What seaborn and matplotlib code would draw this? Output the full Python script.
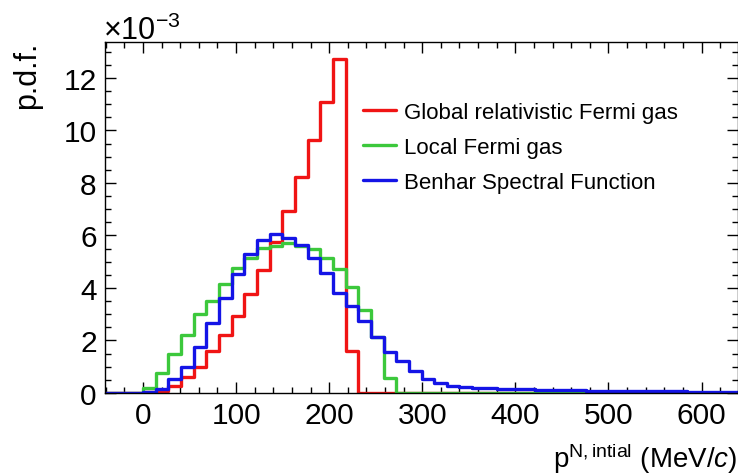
import numpy as np
import pandas as pd
import matplotlib
matplotlib.use("Agg")
import matplotlib.pyplot as plt
from matplotlib.ticker import MultipleLocator
import seaborn as sns

# Histogram binning: 50 bins of 13.6 MeV/c starting at -40.8 MeV/c
bin_lo = -40.8
bin_width = 13.6
n_bins = 50

# p.d.f. per bin, in units of 1e-3
global_rfg = [0, 0, 0,
              0.02, 0.09, 0.28, 0.62, 1.00, 1.61, 2.20, 2.95, 3.77, 4.70,
              5.74, 6.92, 8.24, 9.65, 11.10, 12.72, 1.61] + [0] * 30

local_fg = [0, 0, 0,
            0.20, 0.78, 1.50, 2.20, 3.00, 3.52, 4.15, 4.78, 5.16, 5.53,
            5.61, 5.71, 5.60, 5.49, 5.15, 4.74, 4.04, 3.18, 2.15, 0.58] + [0] * 27

benhar_sf = [0, 0, 0,
             0.03, 0.17, 0.52, 0.98, 1.74, 2.68, 3.63, 4.53, 5.30, 5.81,
             6.06, 5.90, 5.62, 5.16, 4.56, 3.82, 3.31, 2.74, 2.15, 1.55,
             1.20, 0.83, 0.53, 0.37, 0.28, 0.23, 0.20, 0.18, 0.17, 0.15,
             0.14, 0.13, 0.12, 0.11, 0.10, 0.09, 0.09, 0.08, 0.08, 0.07,
             0.07, 0.06, 0.06, 0.05, 0.05, 0.05, 0.04]

series_names = ["Global relativistic Fermi gas", "Local Fermi gas",
                "Benhar Spectral Function"]
series_colors = ["#f01414", "#3cc83c", "#1414e6"]
series_values = [global_rfg, local_fg, benhar_sf]

x_ticks = [0, 100, 200, 300, 400, 500, 600]
y_ticks = [0, 2, 4, 6, 8, 10, 12]

edges = [bin_lo + bin_width * i for i in range(n_bins + 1)]
centers = [0.5 * (a + b) for a, b in zip(edges[:-1], edges[1:])]

sns.set_style("ticks")
plt.rcParams["font.family"] = ["Liberation Sans", "DejaVu Sans"]
plt.rcParams["mathtext.fontset"] = "custom"
plt.rcParams["mathtext.rm"] = "Liberation Sans"
plt.rcParams["mathtext.it"] = "Liberation Sans:italic"
plt.rcParams["mathtext.default"] = "regular"
plt.rcParams["text.color"] = "black"
plt.rcParams["xtick.labelcolor"] = "black"
plt.rcParams["ytick.labelcolor"] = "black"

W, H = 738, 477
fig = plt.figure(figsize=(W / 100, H / 100), dpi=100)
ax = fig.add_axes([105 / W, (H - 394) / H, 633 / W, (394 - 43) / H])

for name, color, vals in zip(series_names, series_colors, series_values):
    df = pd.DataFrame({"p": centers, "pdf": vals})
    sns.histplot(data=df, x="p", weights="pdf", bins=edges, element="step",
                 fill=False, color=color, linewidth=2.4, label=name, ax=ax)

ax.set_xlim(edges[0], edges[-1])
ax.set_ylim(0, 13.37)
ax.set_xticks(x_ticks)
ax.set_yticks(y_ticks)
ax.xaxis.set_minor_locator(MultipleLocator(20))
ax.yaxis.set_minor_locator(MultipleLocator(0.5))
ax.tick_params(which="both", direction="in", top=True, right=True,
               width=1.0, color="black", labelcolor="black")
ax.tick_params(which="major", length=8, labelsize=21.5, pad=6)
ax.tick_params(which="minor", length=4)
ax.set_xlabel("")
ax.set_ylabel("")
for s in ax.spines.values():
    s.set_linewidth(1.0)
    s.set_color("black")

fig.text(27 / W, 1 - 42 / H, "p.d.f.", rotation=90, ha="center", va="top",
         fontsize=22, color="black")
fig.text(103 / W, 1 - 40 / H, r"$\times$10$^{-3}$", ha="left", va="baseline",
         fontsize=22, color="black")
fig.text(737 / W, 1 - 468 / H, r"p$^{N,intial}$ (MeV/$\mathit{c}$)",
         ha="right", va="baseline", fontsize=20, color="black")

leg = ax.legend(loc="upper left", bbox_to_anchor=(363 / W, 1 - 103 / H),
                bbox_transform=fig.transFigure, frameon=False, fontsize=16,
                handlelength=1.5, handletextpad=0.36, labelspacing=0.63,
                borderpad=0, borderaxespad=0)
for t in leg.get_texts():
    t.set_color("black")

fig.savefig("out.png", dpi=100)
